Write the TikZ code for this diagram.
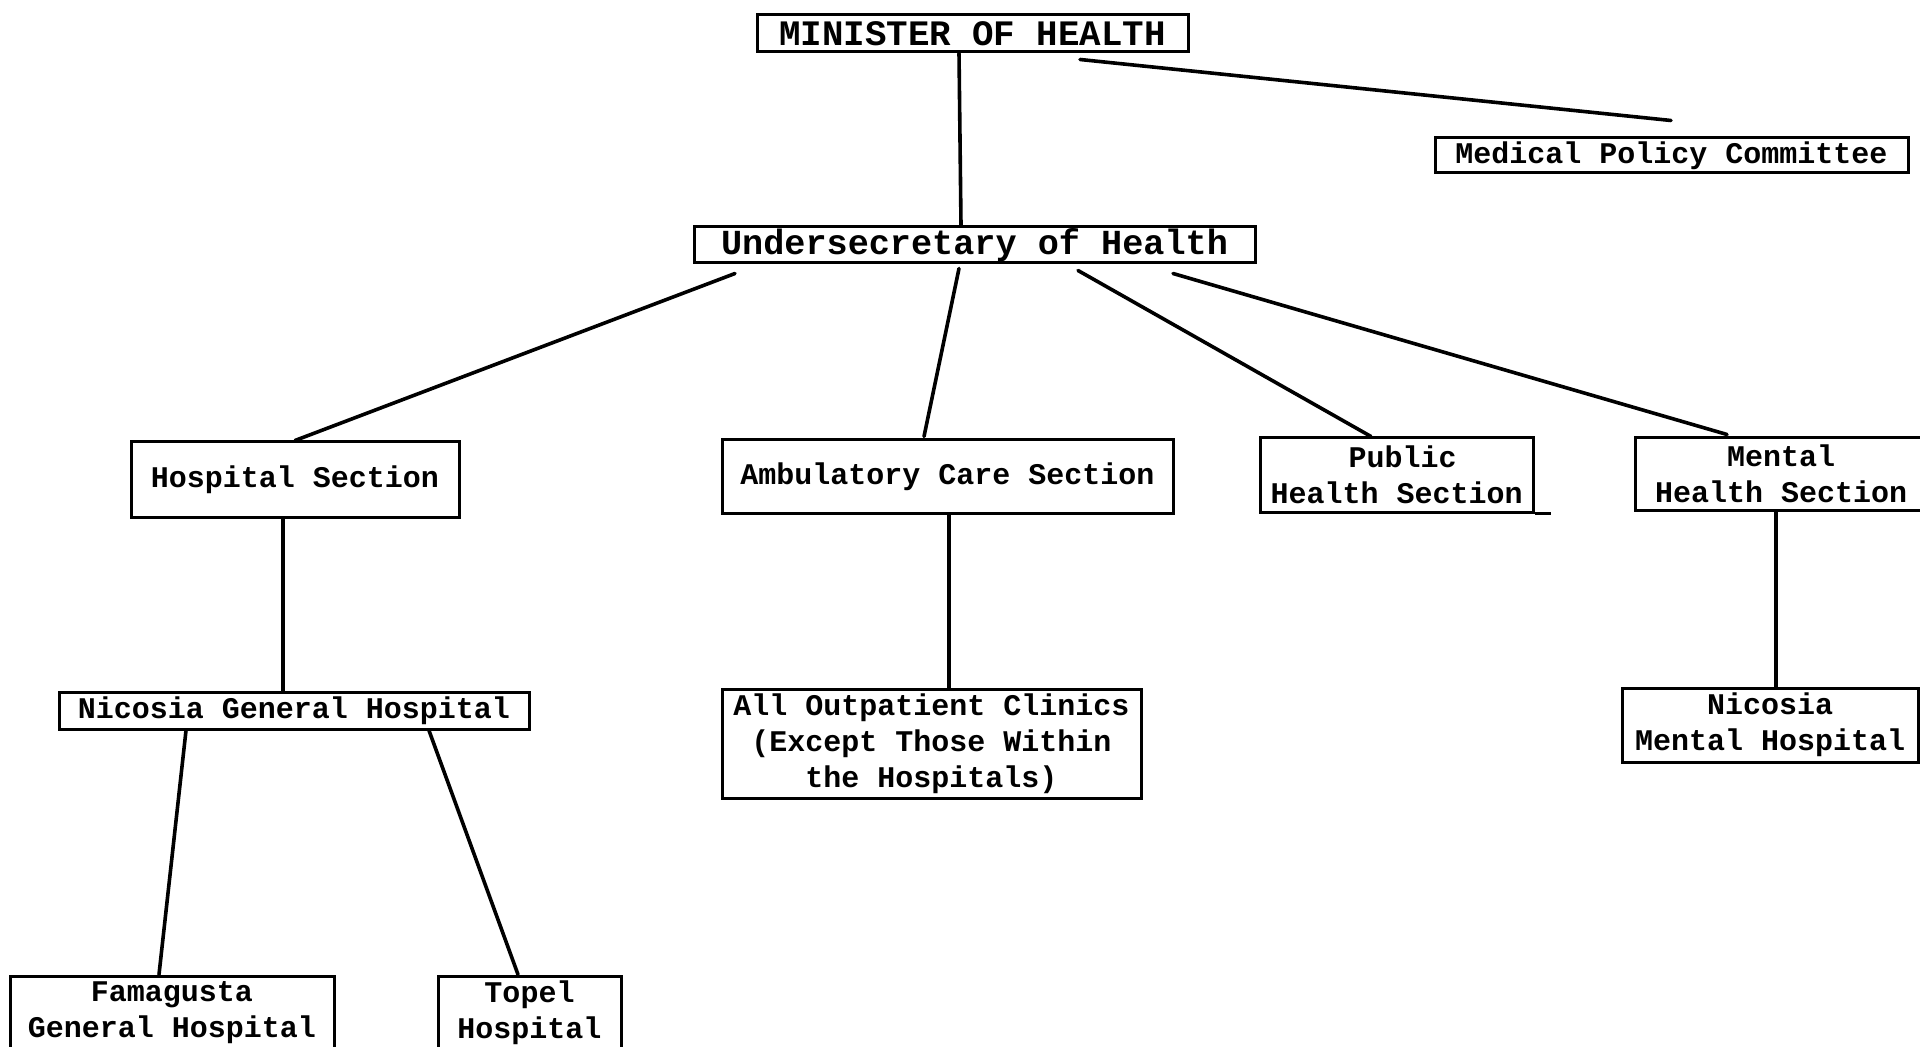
\documentclass[tikz,border=0pt]{standalone}
\usepackage{fontspec}
\setmainfont{Liberation Mono}
\usetikzlibrary{calc}
\begin{document}
\begin{tikzpicture}[x=0.5pt,y=-0.5pt,
  box/.style={draw, line width=1.5pt, inner sep=0pt, align=center, font=\fontsize{15}{18}\selectfont\bfseries},
  link/.style={line width=1.8pt, line cap=round}]
\useasboundingbox (0,0) rectangle (1920,1047);
\clip (0,0) rectangle (1920,1047);
\node[box, minimum width=215.5pt, minimum height=18.5pt, font=\fontsize{17.9}{20}\selectfont\bfseries] (min) at (972.5,33.5) {MINISTER OF HEALTH};
\node[box, minimum width=236.5pt, minimum height=17.5pt] (mpc) at (1671.5,155.5) {Medical Policy Committee};
\node[box, minimum width=280.5pt, minimum height=18pt, font=\fontsize{17.6}{20}\selectfont\bfseries] (under) at (974.5,245) {Undersecretary of Health};
\node[box, minimum width=164pt, minimum height=37.5pt] (hosp) at (295,479.5) {Hospital Section};
\node[box, minimum width=225.5pt, minimum height=36.5pt] (amb) at (947.5,476.5) {Ambulatory Care Section};
\node[box, minimum width=136.5pt, minimum height=37pt] (pub) at (1396.5,475) {\hspace*{6pt}Public\\Health Section};
\node[box, minimum width=146pt, minimum height=36pt] (ment) at (1781,474) {Mental\\Health Section};
\node[box, minimum width=235pt, minimum height=18.5pt] (nicg) at (294,710.5) {Nicosia General Hospital};
\node[box, minimum width=209.5pt, minimum height=54.5pt] (out) at (931.5,743.5) {All Outpatient Clinics\\(Except Those Within\\the Hospitals)};
\node[box, minimum width=148pt, minimum height=37pt] (nicm) at (1770,725) {Nicosia\\Mental Hospital};
\node[box, minimum width=162pt, minimum height=37pt] (fam) at (172,1013) {Famagusta\\General Hospital};
\node[box, minimum width=91.5pt, minimum height=37pt] (topel) at (529.5,1013) {Topel\\Hospital};
% stray extension of the Public box bottom rule
\draw[line width=1.5pt] (pub.south east) -- ++(16,0);
% connectors
\draw[link] ($(min.south)+(-13.5,0)$) -- ($(under.north)+(-13.5,0)$);
\draw[link] ($(min.south)+(107.5,6)$) -- ($(mpc.north)+(-0.5,-16)$);
\draw[link] ($(under.south)+(-239.5,9)$) -- (hosp.north);
\draw[link] ($(under.south)+(-15.5,4)$) -- ($(amb.north)+(-23.5,-2)$);
\draw[link] ($(under.south)+(103.5,6)$) -- ($(pub.north)+(-25.5,0)$);
\draw[link] ($(under.south)+(198.5,9)$) -- ($(ment.north)+(-54,-2)$);
\draw[link] ($(hosp.south)+(-12,0)$) -- ($(nicg.north)+(-11,0)$);
\draw[link] ($(amb.south)+(1.5,0)$) -- ($(out.north)+(17.5,0)$);
\draw[link] ($(ment.south)+(-5,0)$) -- ($(nicm.north)+(6,0)$);
\draw[link] ($(nicg.south)+(-108,0)$) -- ($(fam.north)+(-13,0)$);
\draw[link] ($(nicg.south)+(135,0)$) -- ($(topel.north)+(-11.5,0)$);
\end{tikzpicture}
\end{document}
